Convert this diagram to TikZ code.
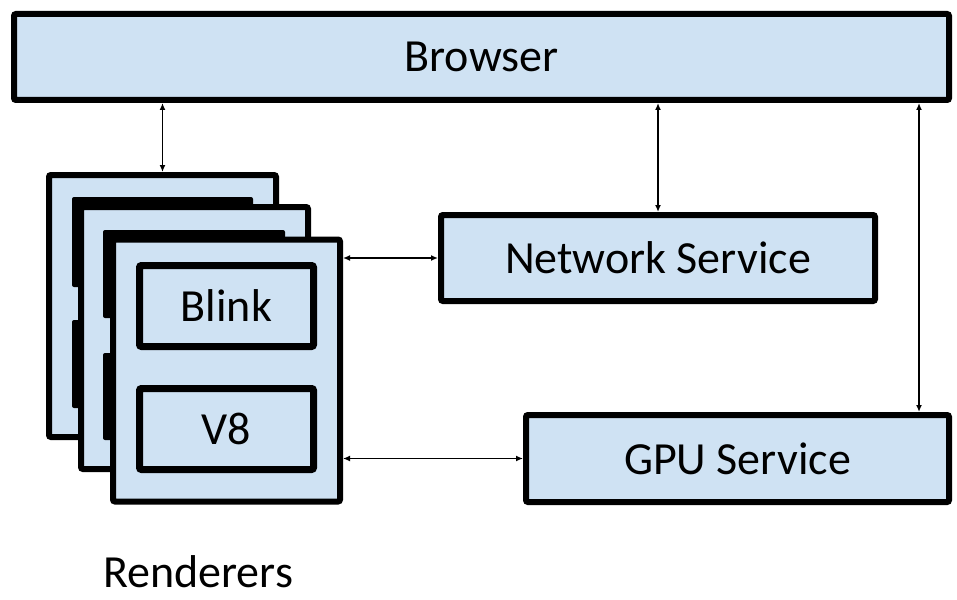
\documentclass[tikz,border=0pt]{standalone}
\usepackage{fontspec}
\setmainfont{Carlito}
\usepackage{tikz}
\usetikzlibrary{calc}
\usetikzlibrary{positioning}
\usetikzlibrary{arrows.meta}
\definecolor{paleblue}{RGB}{207,226,243}
\tikzstyle{box} = [draw=black, fill=paleblue, line width=6pt, rounded corners=2pt, inner sep=0pt, font=\fontsize{46}{52}\selectfont]
\tikzstyle{inbox} = [box, line width=7pt, minimum width=174pt, minimum height=81pt]
\tikzstyle{card} = [box, minimum width=227pt, minimum height=262pt]
\tikzstyle{link} = [line width=1.5pt, {Latex[length=7pt,width=6pt]}-{Latex[length=7pt,width=6pt]}]

\begin{document}
\begin{tikzpicture}[x=1pt,y=-1pt]
\useasboundingbox (0,0) rectangle (957,599);

% Nodes
\node[box, minimum width=935pt, minimum height=86pt] (browser) at (481.5,57) {Browser};
\node[box, minimum width=434pt, minimum height=86pt] (net) at (658,258) {Network Service};
\node[box, minimum width=423pt, minimum height=87pt] (gpu) at (737.5,458.5) {GPU Service};

% renderer stack
\node[card] (back) at (162.5,306) {};
\fill[black, rounded corners=2pt] (72,197) rectangle (253,287);
\fill[black, rounded corners=2pt] (72,320) rectangle (253,408);
\node[card] (mid) at (194.5,338) {};
\fill[black, rounded corners=2pt] (103,230) rectangle (285,318);
\fill[black, rounded corners=2pt] (103,353) rectangle (285,440);
\node[card] (front) at (226.5,370.5) {};
\node[inbox] (blink) at (226.5,306) {Blink};
\node[inbox] (v8) at (226.5,429) {V8};
\node[font=\fontsize{46}{52}\selectfont, anchor=base, inner sep=0pt] (rend) at (198,587) {Renderers};

% Edges
\coordinate (gputop) at ($(gpu.north east)+(-33,0)$);
\draw[link] (back.north |- browser.south) -- (back.north);
\draw[link] (net.north |- browser.south) -- (net.north);
\draw[link] (gputop |- browser.south) -- (gputop);
\draw[link] (front.east |- net.west) -- (net.west);
\draw[link] (front.east |- gpu.west) -- (gpu.west);

\end{tikzpicture}
\end{document}
